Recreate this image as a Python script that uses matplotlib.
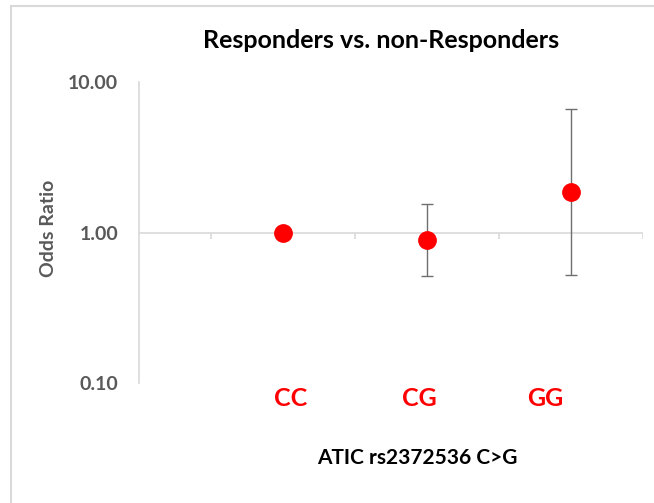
import matplotlib.pyplot as plt
from matplotlib.lines import Line2D
from matplotlib.ticker import FixedLocator, NullLocator

# odds ratios with 95% CI per genotype
genotypes = ['CC', 'CG', 'GG']
xpos = [1, 2, 3]
odds = [1.00, 0.885, 1.86]
ci_low = [1.00, 0.517, 0.525]
ci_high = [1.00, 1.55, 6.58]
label_x = [1.056, 1.95, 2.82]

yticks = [0.1, 1, 10]
ytick_labels = ['0.10', '1.00', '10.00']

plt.rcParams['font.family'] = ['Lato', 'DejaVu Sans']

fig = plt.figure(figsize=(6.54, 5.03), dpi=100)
ax = fig.add_axes([139/654, 1 - 383/503, (643 - 139)/654, (383 - 82)/503])

grid_grey = '#d9d9d9'
text_grey = '#595959'

ax.set_yscale('log')
ax.set_ylim(0.1, 10)
ax.set_xlim(0, 3.5)

for s in ['top', 'right', 'bottom']:
    ax.spines[s].set_visible(False)
ax.spines['left'].set_color(grid_grey)
ax.spines['left'].set_linewidth(1.2)

# horizontal axis sits at OR = 1
ax.axhline(1, color=grid_grey, lw=1.2, zorder=1)
for t in [0.5, 1.5, 2.5, 3.5]:
    ax.plot([t, t], [1, 10**(-6/150)], color=grid_grey, lw=1.2, zorder=1,
            solid_capstyle='butt')

ax.yaxis.set_major_locator(FixedLocator(yticks))
ax.yaxis.set_minor_locator(NullLocator())
ax.set_yticklabels(ytick_labels, fontsize=14, fontweight='bold', color=text_grey)
ax.tick_params(axis='y', length=0, pad=15)
ax.set_xticks([])

lo = [o - l for o, l in zip(odds, ci_low)]
hi = [h - o for o, h in zip(odds, ci_high)]
ax.errorbar(xpos, odds, yerr=[lo, hi], fmt='none', ecolor='#6f6f6f',
            elinewidth=1.0, capsize=4, capthick=1.0, zorder=2)
ax.plot(xpos, odds, 'o', color='#ff0000', markersize=12.5, zorder=3)

# genotype labels under the axis
for x, g in zip(label_x, genotypes):
    px = ax.transData.transform((x, 1))[0] / 654
    fig.text(px, 1 - 399/503, g, ha='center', va='center', fontsize=18,
             fontweight='bold', color='#ff0000')

fig.text(381/654, 1 - 41/503, 'Responders vs. non-Responders', ha='center',
         va='center', fontsize=18, fontweight='bold', color='black')
fig.text(417/654, 1 - 458/503, 'ATIC rs2372536 C>G', ha='center',
         va='center', fontsize=15, fontweight='bold', color='black')
fig.text(49/654, 1 - 228/503, 'Odds Ratio', ha='center', va='center',
         rotation=90, fontsize=14, fontweight='bold', color=text_grey)

# chart frame, top and left edges
fig.add_artist(Line2D([10.5/654, 1], [1 - 5.5/503, 1 - 5.5/503],
                      transform=fig.transFigure, color=grid_grey, lw=1.5))
fig.add_artist(Line2D([10.5/654, 10.5/654], [0, 1 - 5.5/503],
                      transform=fig.transFigure, color=grid_grey, lw=1.5))

fig.savefig('out.png', dpi=100)
